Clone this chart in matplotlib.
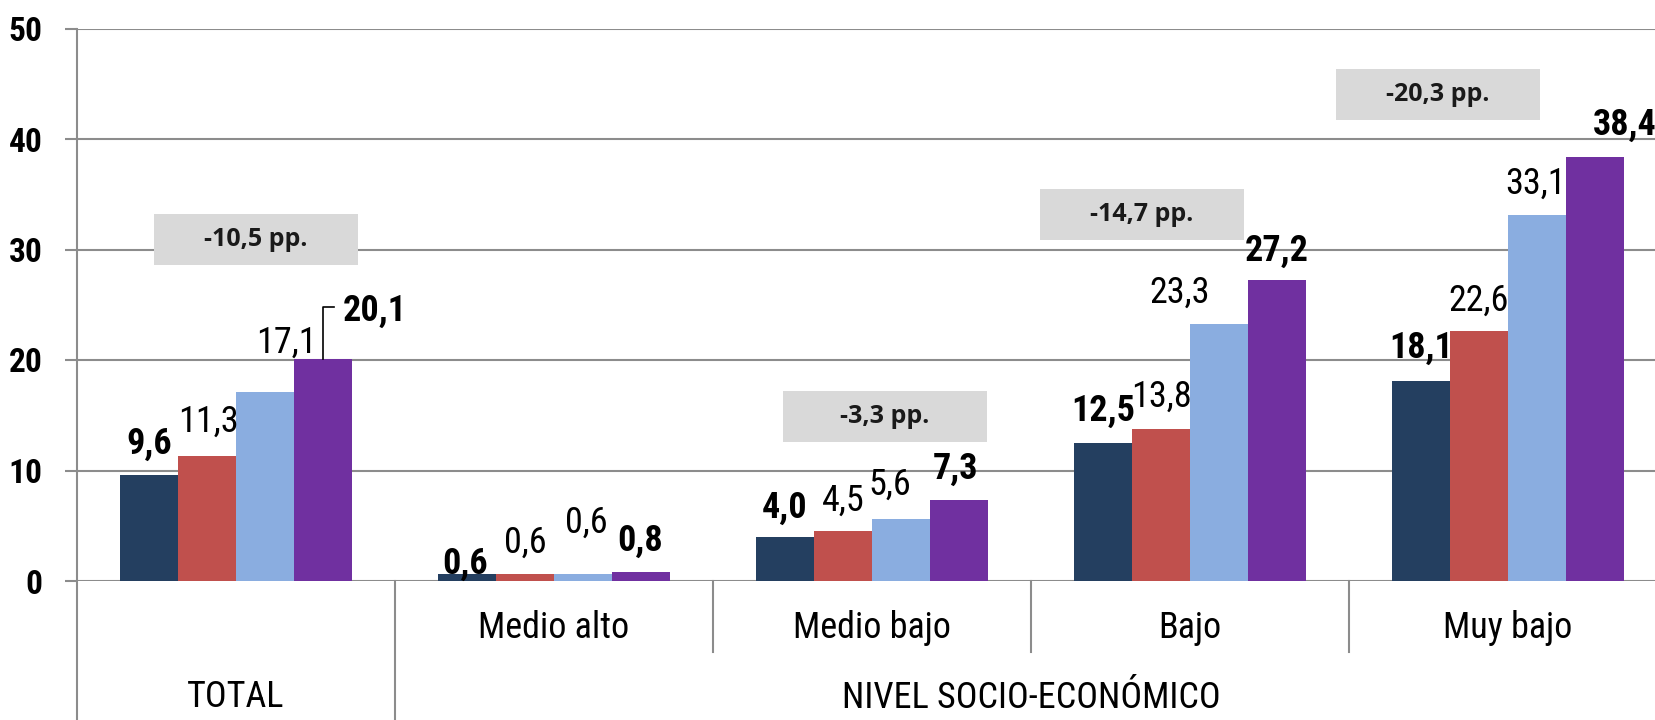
import matplotlib
matplotlib.use('Agg')
import matplotlib.pyplot as plt
from matplotlib.patches import Rectangle
import numpy as np

# data
categories = ['TOTAL', 'Medio alto', 'Medio bajo', 'Bajo', 'Muy bajo']
serie_1 = [9.6, 0.6, 4.0, 12.5, 18.1]
serie_2 = [11.3, 0.6, 4.5, 13.8, 22.6]
serie_3 = [17.1, 0.6, 5.6, 23.3, 33.1]
serie_4 = [20.1, 0.8, 7.3, 27.2, 38.4]
group_label = 'NIVEL SOCIO-ECONÓMICO'
gap_labels = ['-10,5 pp.', '-3,3 pp.', '-14,7 pp.', '-20,3 pp.']
y_ticks = [0, 10, 20, 30, 40, 50]

# layout / styles
colors = ['#243F60', '#C0504D', '#8AADE0', '#7030A0']
bold_series = [True, False, False, True]
GRAY = '#8c8c8c'
FONT = ['Roboto Condensed', 'Roboto', 'DejaVu Sans']
BOX_FONT = ['Open Sans', 'DejaVu Sans']
plt.rcParams['font.family'] = FONT
plt.rcParams['font.stretch'] = 'condensed'

# label offsets in pixels (dx, dy above bar top to text centre), per category
label_offsets = [
    [(0, 34), (1, 37), (21, 52), (52, 51)],
    [(-2, 14), (0, 35), (3, 55), (-1, 34)],
    [(0, 32), (0, 34), (-11, 37), (-3, 34)],
    [(0, 35), (1, 35), (-39, 34), (0, 33)],
    [(0, 36), (0, 34), (-1, 35), (30, 35)],
]
# grey boxes: centre in data coords
box_pos = [(0.063, 30.9), (2.041, 14.9), (2.849, 33.2), (3.780, 44.0)]
box_w, box_h = 204 / 318, 51 / 11.05

W, H = 1656, 720
fig = plt.figure(figsize=(W / 100, H / 100), dpi=100)
ax = fig.add_axes([77 / W, 139 / H, (W - 77) / W, 552.5 / H])
ax.set_xlim(-0.5, -0.5 + (W - 77) / 318)
ax.set_ylim(0, 50)

for s in ax.spines.values():
    s.set_visible(False)

ax.set_yticks(y_ticks)
ax.yaxis.grid(True, color=GRAY, lw=1.5)
ax.set_axisbelow(True)
ax.tick_params(axis='y', length=8.6, width=1.5, color=GRAY, pad=16,
               labelsize=24)
for t in ax.get_yticklabels():
    t.set_fontweight('bold')
ax.tick_params(axis='x', bottom=False, labelbottom=False)

series = [serie_1, serie_2, serie_3, serie_4]
x = np.arange(len(categories))
bw = 58 / 318
for j, vals in enumerate(series):
    xs = x + (j - 1.5) * bw
    ax.bar(xs, vals, width=bw, color=colors[j], zorder=3)
    for i, v in enumerate(vals):
        dx, dy = label_offsets[i][j]
        ax.annotate(f'{v:.1f}'.replace('.', ','), xy=(xs[i], v),
                    xytext=(dx, dy - 13), textcoords='offset pixels',
                    ha='center', va='baseline', fontsize=26,
                    fontweight='bold' if bold_series[j] else 'normal',
                    annotation_clip=False, zorder=5)

# leader line for TOTAL last bar
xb = x[0] + 1.5 * bw
p = ax.transData.transform((xb, serie_4[0]))
pts = p + np.array([[0, 0], [0, 52], [11, 52]])
dpts = ax.transData.inverted().transform(pts)
ax.plot(dpts[:, 0], dpts[:, 1], color='black', lw=1.2, zorder=5)

# grey difference boxes
for (cx, cy), txt in zip(box_pos, gap_labels):
    ax.add_patch(Rectangle((cx - box_w / 2, cy - box_h / 2), box_w, box_h,
                           facecolor='#D9D9D9', edgecolor='none', zorder=4))
    ax.text(cx, cy, txt, ha='center', va='center', fontsize=18,
            fontweight='bold', family=BOX_FONT, fontstretch='normal',
            color='#1a1a1a', zorder=5)

# category axis (two levels)
tr = ax.get_xaxis_transform()
bottom_y = -139 / 552.5
mid_y = -(652 - 581) / 552.5
for b in [-0.5, 0.5]:
    ax.plot([b, b], [1 if b < 0 else 0, bottom_y], color=GRAY, lw=1.5,
            transform=tr, clip_on=False)
for b in [1.5, 2.5, 3.5]:
    ax.plot([b, b], [0, mid_y], color=GRAY, lw=1.5, transform=tr,
            clip_on=False)

for i, c in enumerate(categories[1:], start=1):
    ax.text(i, -(628 - 581) / 552.5, c, transform=tr, ha='center',
            va='center', fontsize=26)
ax.text(0, -(697 - 581) / 552.5, categories[0], transform=tr,
        ha='center', va='center', fontsize=26)
ax.text(2.5, -(698 - 581) / 552.5, group_label, transform=tr,
        ha='center', va='center', fontsize=26)

fig.savefig('out.png', dpi=100)
